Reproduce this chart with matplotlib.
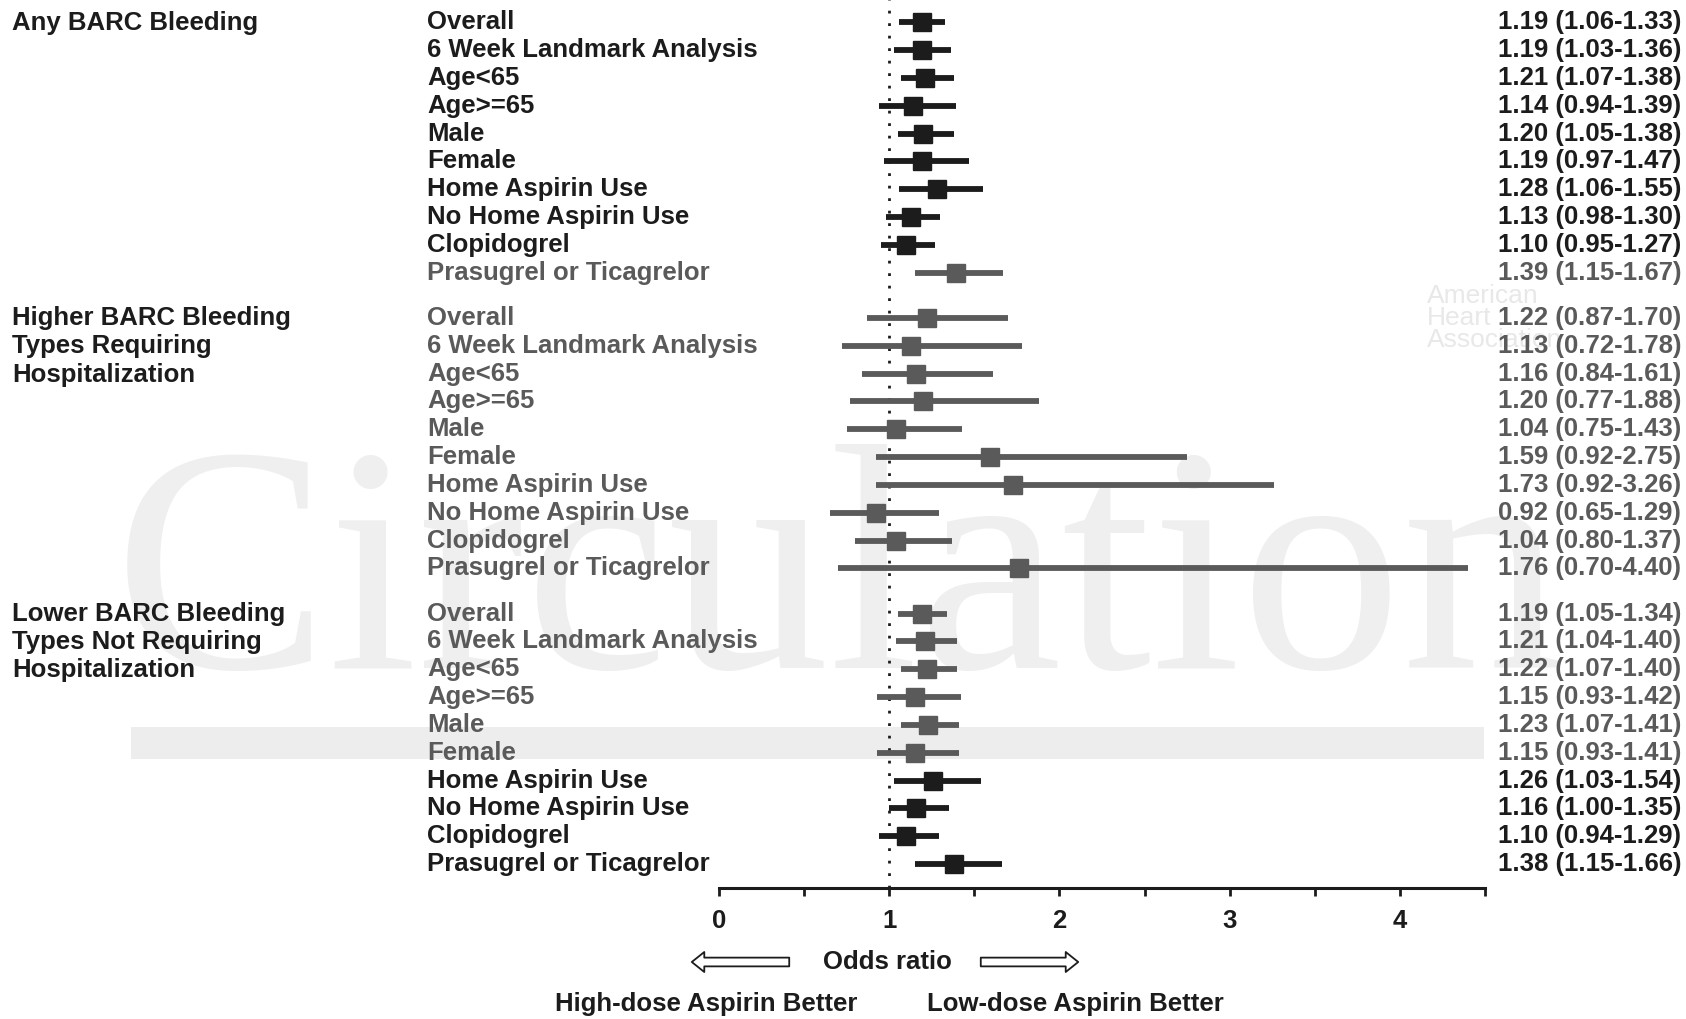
import matplotlib.pyplot as plt
import matplotlib.transforms as mtransforms
from matplotlib.patches import FancyArrowPatch, Rectangle

# groups and subgroups
groups = [
    'Any BARC Bleeding',
    'Higher BARC Bleeding\nTypes Requiring\nHospitalization',
    'Lower BARC Bleeding\nTypes Not Requiring\nHospitalization',
]
subgroups = ['Overall', '6 Week Landmark Analysis', 'Age<65', 'Age>=65', 'Male',
             'Female', 'Home Aspirin Use', 'No Home Aspirin Use', 'Clopidogrel',
             'Prasugrel or Ticagrelor']

# odds ratios and 95% CI per group
or_any = [1.19, 1.19, 1.21, 1.14, 1.20, 1.19, 1.28, 1.13, 1.10, 1.39]
lo_any = [1.06, 1.03, 1.07, 0.94, 1.05, 0.97, 1.06, 0.98, 0.95, 1.15]
hi_any = [1.33, 1.36, 1.38, 1.39, 1.38, 1.47, 1.55, 1.30, 1.27, 1.67]

or_high = [1.22, 1.13, 1.16, 1.20, 1.04, 1.59, 1.73, 0.92, 1.04, 1.76]
lo_high = [0.87, 0.72, 0.84, 0.77, 0.75, 0.92, 0.92, 0.65, 0.80, 0.70]
hi_high = [1.70, 1.78, 1.61, 1.88, 1.43, 2.75, 3.26, 1.29, 1.37, 4.40]

or_low = [1.19, 1.21, 1.22, 1.15, 1.23, 1.15, 1.26, 1.16, 1.10, 1.38]
lo_low = [1.05, 1.04, 1.07, 0.93, 1.07, 0.93, 1.03, 1.00, 0.94, 1.15]
hi_low = [1.34, 1.40, 1.40, 1.42, 1.41, 1.41, 1.54, 1.35, 1.29, 1.66]

x_ticks = [0, 1, 2, 3, 4]

# shade of each row (d = dark, g = gray), as printed
shade = [
    'dddddddddg',
    'gggggggggg',
    'ggggggdddd',
]

DARK = '#1c1c1c'
GRAY = '#5a5a5a'
FONT = 'Liberation Sans'
FS = 18.5

fig = plt.figure(figsize=(16.86, 10.19), dpi=100)

# watermark on a background layer
bg = fig.add_axes([0, 0, 1, 1], zorder=-1)
bg.set_xlim(0, 1686)
bg.set_ylim(1019, 0)
bg.axis('off')
bg.text(839, 668, 'Circulation', fontsize=232, family='Liberation Serif',
        color='#efefef', ha='center', va='baseline')
bg.add_patch(Rectangle((131, 727), 1484 - 131, 32, color='#ededed', lw=0))
bg.text(1427, 318, 'American\nHeart\nAssociation', fontsize=19, family=FONT,
        color='#e8e8e8', ha='left', va='center', linespacing=0.9)

ax = fig.add_axes([719 / 1686, 1 - 888 / 1019, (1485 - 719) / 1686, 888 / 1019],
                  zorder=1)
ax.patch.set_alpha(0)

gap = 1.62
blend_lab = mtransforms.blended_transform_factory(fig.transFigure, ax.transData)

data = [(or_any, lo_any, hi_any), (or_high, lo_high, hi_high), (or_low, lo_low, hi_low)]
for g, (ors, los, his) in enumerate(data):
    y0 = g * (9 + gap)
    ax.text(12 / 1686, y0 - 0.42, groups[g], transform=blend_lab, ha='left', va='top',
            fontsize=FS, fontweight='bold', family=FONT, color=DARK,
            linespacing=1.22)
    for i in range(len(subgroups)):
        y = y0 + i
        c = DARK if shade[g][i] == 'd' else GRAY
        ax.plot([los[i], his[i]], [y, y], color=c, lw=4.2, solid_capstyle='butt',
                zorder=3)
        ax.plot(ors[i], y, marker='s', ms=12.5, color=c, zorder=4)
        ax.text(427 / 1686, y, subgroups[i], transform=blend_lab, ha='left',
                va='center', fontsize=FS, fontweight='bold', family=FONT, color=c)
        ax.text(1681 / 1686, y, '%.2f (%.2f-%.2f)' % (ors[i], los[i], his[i]),
                transform=blend_lab, ha='right', va='center', fontsize=FS,
                fontweight='bold', family=FONT, color=c)

last = 2 * (9 + gap) + 9
ax.set_ylim(last + 0.86, -0.8)
ax.set_xlim(0, 4.5)
ax.axvline(1, color=DARK, lw=2, linestyle=(0, (1, 3.5)), zorder=2)

for side in ['top', 'right', 'left']:
    ax.spines[side].set_visible(False)
ax.spines['bottom'].set_linewidth(2.2)
ax.spines['bottom'].set_color(DARK)
ax.set_yticks([])
half_steps = [v / 2 for v in range(10)]
ax.set_xticks(half_steps)
ax.set_xticklabels(['%d' % v if v in x_ticks else '' for v in half_steps])
ax.tick_params(axis='x', length=6, width=2, color=DARK, pad=9, labelsize=FS,
               labelcolor=DARK)
for lab in ax.get_xticklabels():
    lab.set_fontweight('bold')
    lab.set_family(FONT)

# axis caption with hollow arrows
fig.text(887 / 1686, 1 - 962 / 1019, 'Odds ratio', ha='center', va='center',
         fontsize=FS, fontweight='bold', family=FONT, color=DARK)
arrow_style = dict(arrowstyle='simple,head_length=0.5,head_width=0.8,tail_width=0.35',
                   fc='white', ec=DARK, lw=1.3)
fig.add_artist(FancyArrowPatch((792 / 1686, 1 - 962 / 1019), (689 / 1686, 1 - 962 / 1019),
                               transform=fig.transFigure, mutation_scale=18, **arrow_style))
fig.add_artist(FancyArrowPatch((978 / 1686, 1 - 962 / 1019), (1081 / 1686, 1 - 962 / 1019),
                               transform=fig.transFigure, mutation_scale=18, **arrow_style))

fig.text(706 / 1686, 1 - 1004 / 1019, 'High-dose Aspirin Better', ha='center',
         va='center', fontsize=FS, fontweight='bold', family=FONT, color=DARK)
fig.text(1075 / 1686, 1 - 1004 / 1019, 'Low-dose Aspirin Better', ha='center',
         va='center', fontsize=FS, fontweight='bold', family=FONT, color=DARK)

fig.savefig('out.png', dpi=100, facecolor='white')
